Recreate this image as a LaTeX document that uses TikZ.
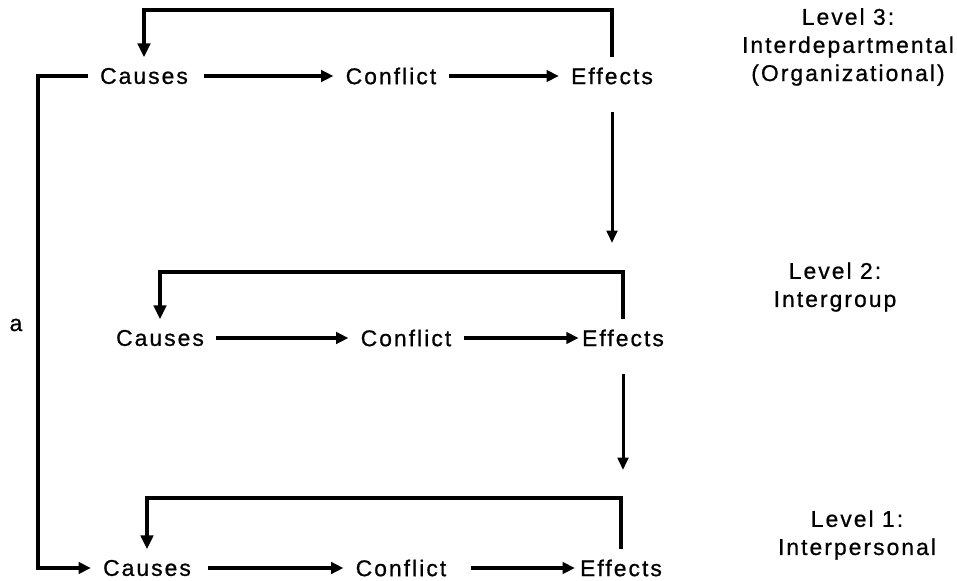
\documentclass[tikz,border=0pt]{standalone}
\usepackage{fontspec}
\setmainfont{Liberation Sans}[LetterSpace=9, FakeBold=0.8]
\usetikzlibrary{arrows.meta}

\begin{document}
\begin{tikzpicture}[x=0.02cm, y=-0.02cm,
  every node/.style={font=\fontsize{13}{16}\selectfont, inner xsep=7pt, inner ysep=6pt, outer sep=0pt},
  flow/.style={line width=1.8pt, -{Triangle[length=7pt,width=6.5pt]}},
  back/.style={line width=2.2pt, -{Triangle[length=8pt,width=7pt]}},
  down/.style={line width=1.7pt, -{Triangle[length=7pt,width=6pt]}, shorten <=10pt},
  level/.style={align=center}]
\useasboundingbox (0,0) rectangle (957,581);

\node (c3) at (144,76) {Causes};
\node (k3) at (391,76) {Conflict};
\node (e3) at (612,76) {Effects};

\node (c2) at (160,338) {Causes};
\node (k2) at (406,338) {Conflict};
\node (e2) at (623,338) {Effects};

\node (c1) at (147,568) {Causes};
\node (k1) at (401,568) {Conflict};
\node (e1) at (621,568) {Effects};

\node (a) at (16,325) {a};

\node[level] (l3) at (848,47) {Level 3:\\Interdepartmental\\(Organizational)};
\node[level] (l2) at (835,287) {Level 2:\\Intergroup};
\node[level] (l1) at (857,535) {Level 1:\\Interpersonal};

\coordinate (fb3) at (0,10);
\coordinate (fb2) at (0,272);
\coordinate (fb1) at (0,498);
\coordinate (in2) at (0,243);
\coordinate (in1) at (0,470);
\coordinate (lp) at (38,300);

\draw[flow, line width=2.2pt, shorten <=2pt] (c3) -- (k3);
\draw[flow] (k3) -- (e3);
\draw[flow, line width=2.2pt] (c2) -- (k2);
\draw[flow, shorten >=-5pt] (k2) -- (e2);
\draw[flow, line width=2.2pt, shorten <=3pt] (c1) -- (k1);
\draw[flow, shorten <=7pt, shorten >=-4pt] (k1) -- (e1);

\draw[back] (e3.north) -- (e3.north |- fb3) -| (c3.north);
\draw[back] (e2.north) -- (e2.north |- fb2) -| (c2.north);
\draw[back] (e1.north) -- (e1.north |- fb1) -| (c1.north);

\draw[down] (e3.south) -- (e3.south |- in2);
\draw[down] (e2.south) -- (e2.south |- in1);

\draw[flow, line width=2pt] (c3.west) -| (lp) |- (c1.west);
\end{tikzpicture}
\end{document}
